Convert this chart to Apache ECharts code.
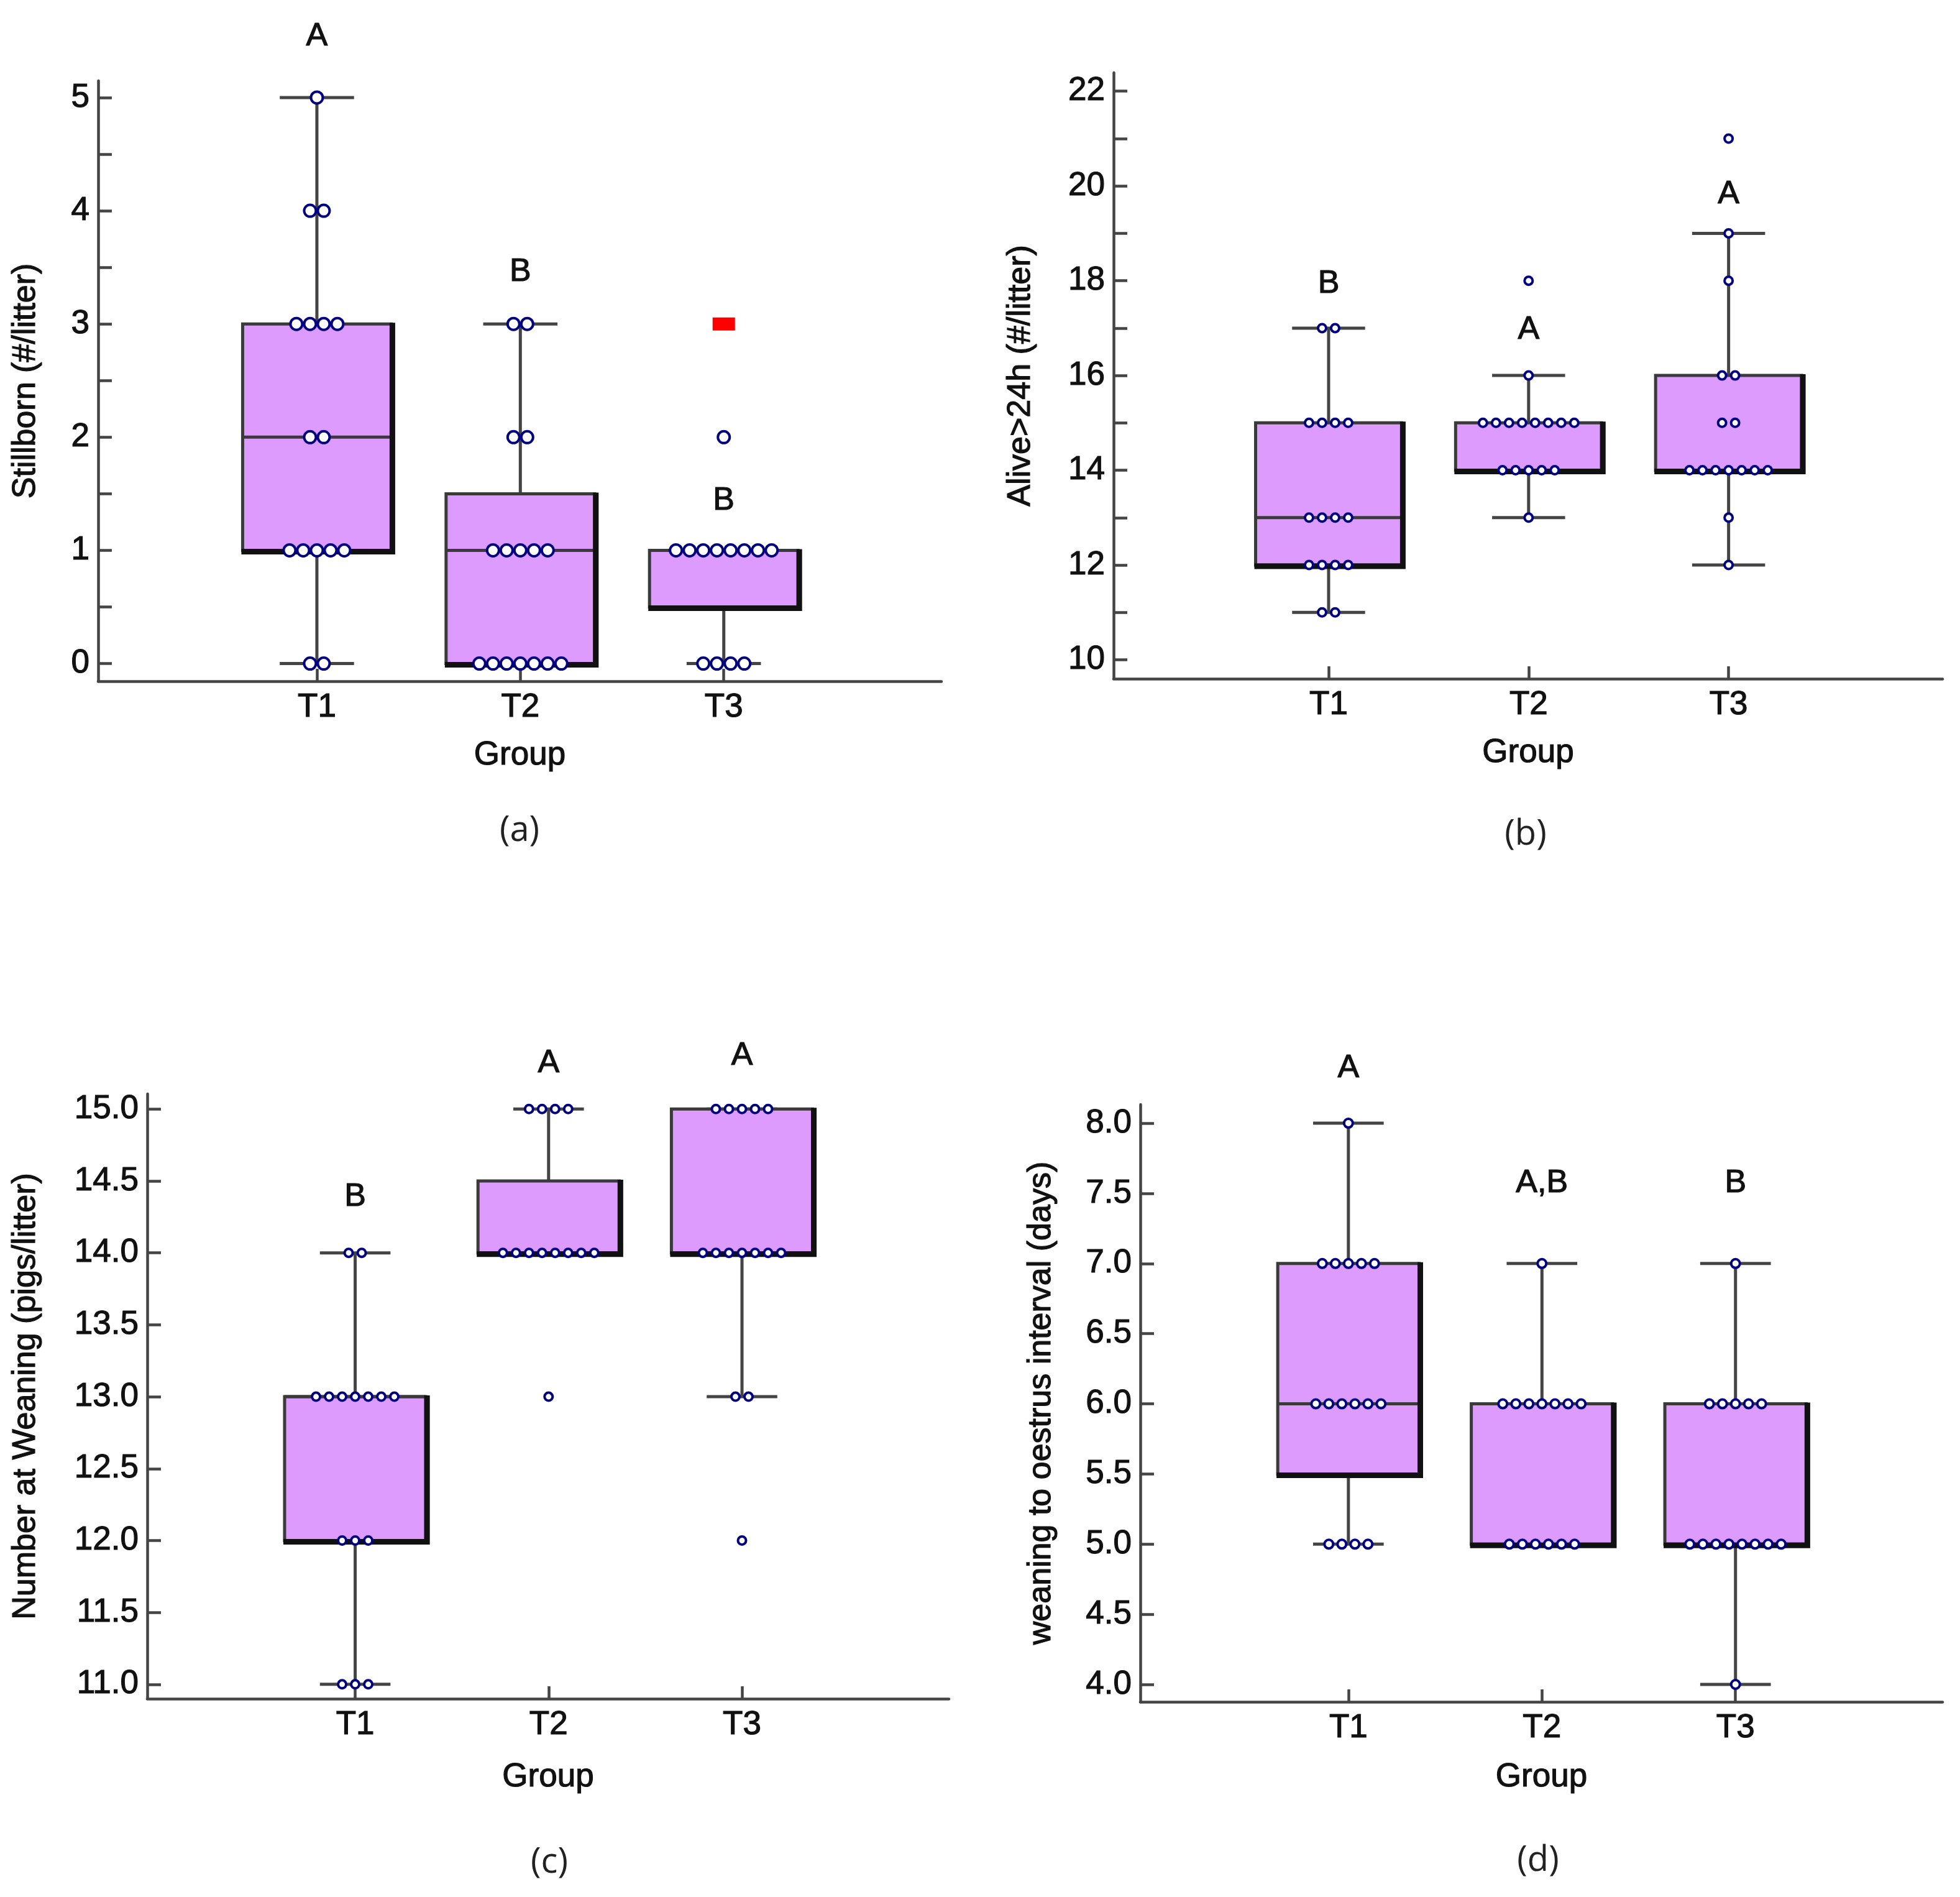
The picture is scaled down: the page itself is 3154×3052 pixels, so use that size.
<!DOCTYPE html>
<html>
<head>
<meta charset="utf-8">
<style>
html, body { margin: 0; padding: 0; background: #fff; }
#chart { width: 3154px; height: 3052px; }
</style>
<script src="https://cdn.jsdelivr.net/npm/echarts@6/dist/echarts.min.js"></script>
</head>
<body>
<div id="chart"></div>
<script>
var chart = echarts.init(document.getElementById('chart'), null, { renderer: 'canvas' });

var groups = ['T1', 'T2', 'T3'];

// (a) stillborn per litter, one value per sow
var stillT1 = [5, 4, 4, 3, 3, 3, 3, 2, 2, 1, 1, 1, 1, 1, 0, 0];
var stillT2 = [3, 3, 2, 2, 1, 1, 1, 1, 1, 0, 0, 0, 0, 0, 0, 0];
var stillT3 = [2, 1, 1, 1, 1, 1, 1, 1, 1, 0, 0, 0, 0];
var stillFarOut = [[3, 3]]; // [group, value]
var stillBox = [[0, 1, 2, 3, 5], [0, 0, 1, 1.5, 3], [0, 0.5, 1, 1, 1]]; // min, Q1, median, Q3, max
var stillLetters = ['A', 'B', 'B'];
var stillLetterY = [5.54, 3.46, 1.44];
var stillTicks = [0, 0.5, 1, 1.5, 2, 2.5, 3, 3.5, 4, 4.5, 5];
var stillLabels = [0, 1, 2, 3, 4, 5];

// (b) alive after 24h
var aliveT1 = [17, 17, 15, 15, 15, 15, 13, 13, 13, 13, 12, 12, 12, 12, 11, 11];
var aliveT2 = [18, 16, 15, 15, 15, 15, 15, 15, 15, 15, 14, 14, 14, 14, 14, 13];
var aliveT3 = [21, 19, 18, 16, 16, 15, 15, 14, 14, 14, 14, 14, 14, 14, 13, 12];
var aliveBox = [[11, 12, 13, 15, 17], [13, 14, 14, 15, 16], [12, 14, 14, 16, 19]];
var aliveLetters = ['B', 'A', 'A'];
var aliveLetterY = [17.94, 16.96, 19.82];
var aliveTicks = [10, 11, 12, 13, 14, 15, 16, 17, 18, 19, 20, 21, 22];
var aliveLabels = [10, 12, 14, 16, 18, 20, 22];

// (c) number at weaning
var weanT1 = [14, 14, 13, 13, 13, 13, 13, 13, 13, 12, 12, 12, 11, 11, 11];
var weanT2 = [15, 15, 15, 15, 14, 14, 14, 14, 14, 14, 14, 14, 13];
var weanT3 = [15, 15, 15, 15, 15, 14, 14, 14, 14, 14, 14, 14, 13, 13, 12];
var weanBox = [[11, 12, 13, 13, 14], [14, 14, 14, 14.5, 15], [13, 14, 14, 15, 15]];
var weanLetters = ['B', 'A', 'A'];
var weanLetterY = [14.39, 15.32, 15.37];
var weanTicks = [11, 11.5, 12, 12.5, 13, 13.5, 14, 14.5, 15];

// (d) weaning to oestrus interval
var oestT1 = [8, 7, 7, 7, 7, 7, 6, 6, 6, 6, 6, 6, 5, 5, 5, 5];
var oestT2 = [7, 6, 6, 6, 6, 6, 6, 6, 5, 5, 5, 5, 5, 5];
var oestT3 = [7, 6, 6, 6, 6, 6, 5, 5, 5, 5, 5, 5, 5, 5, 4];
var oestBox = [[5, 5.5, 6, 7, 8], [5, 5, 6, 6, 7], [4, 5, 5, 6, 7]];
var oestLetters = ['A', 'A,B', 'B'];
var oestLetterY = [8.39, 7.57, 7.57];
var oestTicks = [4, 4.5, 5, 5.5, 6, 6.5, 7, 7.5, 8];

var FONT = 'Liberation Sans, Arial, sans-serif';
var INK = '#111';
var AXIS = '#444';
var BOX_WIDTH = 0.73; // in category units

// heavier text, the original is a bitmap with thick glyphs
var textWeight = { textBorderColor: INK, textBorderWidth: 1.2 };

// spread equal values side by side, like the original dot plot
function swarm(lists, spacing) {
    var out = [];
    lists.forEach(function (vals, g) {
        var counts = {}, seen = {};
        vals.forEach(function (v) { counts[v] = (counts[v] || 0) + 1; });
        vals.forEach(function (v) {
            var k = seen[v] || 0;
            seen[v] = k + 1;
            out.push([g + 1, v, (k - (counts[v] - 1) / 2) * spacing]);
        });
    });
    return out;
}

function boxData(stats) {
    return stats.map(function (s, i) { return [i + 1].concat(s); });
}

function renderBox(params, api) {
    var x = api.value(0);
    var lo = api.coord([x, api.value(1)]);
    var q1 = api.coord([x, api.value(2)]);
    var md = api.coord([x, api.value(3)]);
    var q3 = api.coord([x, api.value(4)]);
    var hi = api.coord([x, api.value(5)]);
    var w = api.size([BOX_WIDTH, 0])[0];
    var cx = lo[0];
    var x0 = cx - w / 2, x1 = cx + w / 2;
    var line = { stroke: AXIS, lineWidth: 5 };
    return {
        type: 'group',
        children: [
            { type: 'line', shape: { x1: cx, y1: hi[1], x2: cx, y2: q3[1] }, style: line },
            { type: 'line', shape: { x1: cx, y1: q1[1], x2: cx, y2: lo[1] }, style: line },
            { type: 'line', shape: { x1: cx - w / 4, y1: hi[1], x2: cx + w / 4, y2: hi[1] }, style: line },
            { type: 'line', shape: { x1: cx - w / 4, y1: lo[1], x2: cx + w / 4, y2: lo[1] }, style: line },
            { type: 'rect', shape: { x: x0, y: q3[1], width: w, height: q1[1] - q3[1] }, style: { fill: '#dd9cfd', stroke: '#3a3a3a', lineWidth: 5 } },
            { type: 'line', shape: { x1: x0, y1: md[1], x2: x1, y2: md[1] }, style: { stroke: '#3a3a3a', lineWidth: 5 } },
            // heavy right and bottom edge of the original boxes
            { type: 'polyline', shape: { points: [[x0 - 2, q1[1] + 2], [x1 + 2, q1[1] + 2], [x1 + 2, q3[1] - 2]] }, style: { stroke: '#111', lineWidth: 9, fill: null, lineJoin: 'miter' } }
        ]
    };
}

function dotRenderer(r) {
    return function (params, api) {
        var p = api.coord([api.value(0), api.value(1)]);
        return {
            type: 'circle',
            shape: { cx: p[0] + api.value(2), cy: p[1], r: r },
            style: { fill: '#fff', stroke: '#000080', lineWidth: 4 }
        };
    };
}

function letterRenderer(letters) {
    return function (params, api) {
        var p = api.coord([api.value(0), api.value(1)]);
        return {
            type: 'text',
            x: p[0], y: p[1],
            style: {
                text: letters[params.dataIndex], textAlign: 'center', textVerticalAlign: 'middle',
                fontSize: 52, fontFamily: FONT, fill: INK, stroke: INK, lineWidth: 1.2
            }
        };
    };
}

var grids = [
    { left: 158, top: 130, width: 1357, height: 966 },
    { left: 1792, top: 117, width: 1334, height: 975 },
    { left: 237, top: 1760, width: 1290, height: 973 },
    { left: 1835, top: 1777, width: 1291, height: 961 }
];

function xAxisFor(i, gap) {
    return {
        gridIndex: i, type: 'value', min: -0.075, max: 4.07,
        axisLine: { show: true, onZero: false, lineStyle: { color: AXIS, width: 4.5 } },
        axisTick: { show: true, inside: true, length: 20, customValues: [1, 2, 3], lineStyle: { color: AXIS, width: 4.5 } },
        axisLabel: Object.assign({
            customValues: [1, 2, 3], margin: 16, fontSize: 53, fontFamily: FONT, color: INK,
            formatter: function (v) { return groups[Math.round(v) - 1]; }
        }, textWeight),
        splitLine: { show: false },
        name: 'Group', nameLocation: 'middle', nameGap: gap,
        nameTextStyle: Object.assign({ fontSize: 53, fontFamily: FONT, color: INK }, textWeight)
    };
}

function yAxisFor(i, name, min, max, ticks, labels, digits, gap) {
    return {
        gridIndex: i, type: 'value', min: min, max: max,
        axisLine: { show: true, onZero: false, lineStyle: { color: AXIS, width: 4.5 } },
        axisTick: { show: true, inside: true, length: 22, customValues: ticks, lineStyle: { color: AXIS, width: 4.5 } },
        axisLabel: Object.assign({
            customValues: labels, margin: 14, fontSize: 53, fontFamily: FONT, color: INK,
            formatter: function (v) { return v.toFixed(digits); }
        }, textWeight),
        splitLine: { show: false },
        name: name, nameLocation: 'middle', nameGap: gap, nameRotate: 90,
        nameTextStyle: Object.assign({ fontSize: 52, fontFamily: FONT, color: INK }, textWeight)
    };
}

var panels = [
    { box: stillBox, dots: [stillT1, stillT2, stillT3], r: 9.5, sp: 22, letters: stillLetters, ly: stillLetterY },
    { box: aliveBox, dots: [aliveT1, aliveT2, aliveT3], r: 6.5, sp: 21, letters: aliveLetters, ly: aliveLetterY },
    { box: weanBox, dots: [weanT1, weanT2, weanT3], r: 6.5, sp: 21, letters: weanLetters, ly: weanLetterY },
    { box: oestBox, dots: [oestT1, oestT2, oestT3], r: 7, sp: 21, letters: oestLetters, ly: oestLetterY }
];

var series = [];
panels.forEach(function (p, i) {
    series.push({
        type: 'custom', xAxisIndex: i, yAxisIndex: i, z: 2,
        renderItem: renderBox, encode: { x: 0, y: [1, 2, 3, 4, 5] },
        data: boxData(p.box)
    });
    series.push({
        type: 'custom', xAxisIndex: i, yAxisIndex: i, z: 3,
        renderItem: dotRenderer(p.r), encode: { x: 0, y: 1 },
        data: swarm(p.dots, p.sp)
    });
    series.push({
        type: 'custom', xAxisIndex: i, yAxisIndex: i, z: 4,
        renderItem: letterRenderer(p.letters), encode: { x: 0, y: 1 },
        data: p.ly.map(function (y, g) { return [g + 1, y]; })
    });
});
series.push({
    type: 'scatter', xAxisIndex: 0, yAxisIndex: 0, z: 4,
    symbol: 'rect', symbolSize: [36, 21],
    itemStyle: { color: '#ff0000', opacity: 1 },
    data: stillFarOut
});

function panelTag(text, x, y) {
    return {
        type: 'text', x: x, y: y,
        style: { text: text, textAlign: 'center', textVerticalAlign: 'middle', fontSize: 56, fontFamily: 'Open Sans, Noto Sans, sans-serif', fill: '#222' }
    };
}

chart.setOption({
    backgroundColor: '#fff',
    animation: false,
    grid: grids.map(function (g) { return Object.assign({ outerBoundsMode: 'none' }, g); }),
    xAxis: [xAxisFor(0, 93), xAxisFor(1, 93), xAxisFor(2, 100), xAxisFor(3, 95)],
    yAxis: [
        yAxisFor(0, 'Stillborn (#/litter)', -0.156, 5.148, stillTicks, stillLabels, 0, 90),
        yAxisFor(1, 'Alive>24h (#/litter)', 9.6, 22.39, aliveTicks, aliveLabels, 0, 123),
        yAxisFor(2, 'Number at Weaning (pigs/litter)', 10.9, 15.105, weanTicks, weanTicks, 1, 169),
        yAxisFor(3, 'weaning to oestrus interval (days)', 3.876, 8.133, oestTicks, oestTicks, 1, 133)
    ],
    series: series,
    graphic: [
        panelTag('(a)', 836, 1337),
        panelTag('(b)', 2455, 1343),
        panelTag('(c)', 884, 2997),
        panelTag('(d)', 2475, 2994)
    ]
});
</script>
</body>
</html>
